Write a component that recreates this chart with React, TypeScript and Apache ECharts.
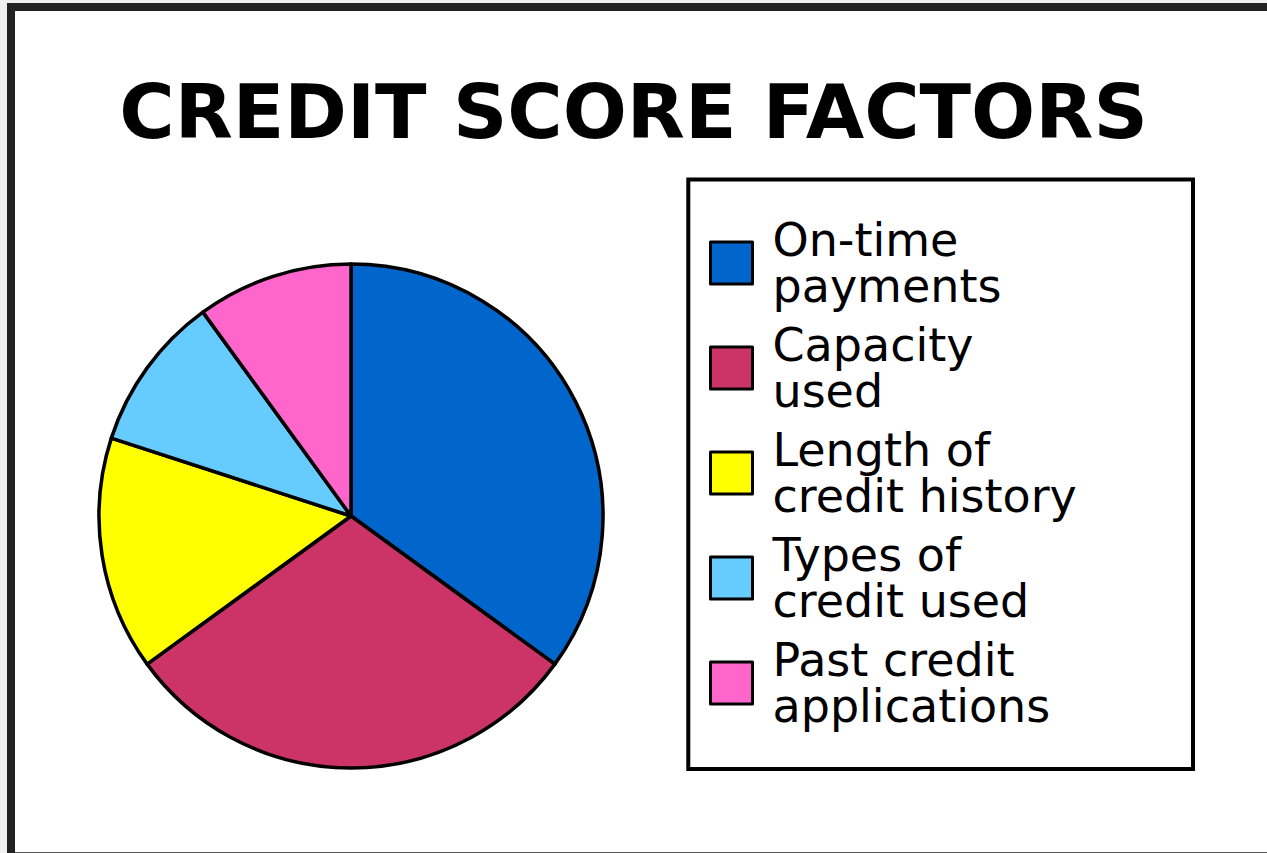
import React, { useEffect, useRef } from "react";
import * as echarts from "echarts";

const categories = [
  "On-time\npayments",
  "Capacity\nused",
  "Length of\ncredit history",
  "Types of\ncredit used",
  "Past credit\napplications",
];
const values = [35, 30, 15, 10, 10];
const colors = ["#0066cc", "#cc3366", "#ffff00", "#66ccff", "#ff66cc"];
const titleText = "CREDIT SCORE FACTORS";

export default function App() {
  const ref = useRef<HTMLDivElement>(null);
  useEffect(() => {
    if (!ref.current) return;
    const chart = echarts.init(ref.current, null, { renderer: "svg" });
    chart.setOption({
      animation: false,
      backgroundColor: "#ffffff",
      title: {
        text: titleText,
        left: "center",
        top: 69,
        textStyle: {
          fontFamily: "DejaVu Sans",
          fontWeight: "bold",
          fontSize: 75.5,
          lineHeight: 76,
          color: "#000",
        },
      },
      graphic: [
        { type: "rect", z: -10, shape: { x: 0, y: 0, width: 1267, height: 853 }, style: { fill: "#f0f0f0" } },
        { type: "rect", z: -9, shape: { x: 7, y: 3, width: 1300, height: 860 }, style: { fill: "#222222" } },
        { type: "rect", z: -8, shape: { x: 15, y: 11, width: 1300, height: 841 }, style: { fill: "#ffffff" } },
        { type: "rect", z: -8, shape: { x: 15, y: 852, width: 1300, height: 1 }, style: { fill: "#555555" } },
        {
          type: "rect",
          z: -7,
          shape: { x: 688.3, y: 179.5, width: 504.7, height: 589.5 },
          style: { fill: "#ffffff", stroke: "#000000", lineWidth: 4 },
        },
      ],
      legend: {
        orient: "vertical",
        left: 709,
        top: 217,
        padding: 0,
        itemWidth: 42,
        itemHeight: 42,
        itemGap: 13,
        icon: "rect",
        itemStyle: { borderColor: "#000", borderWidth: 3 },
        textStyle: {
          fontFamily: "DejaVu Sans",
          fontSize: 46,
          lineHeight: 46,
          color: "#000",
          padding: [0, 0, 0, 15],
        },
        data: categories,
      },
      series: [
        {
          type: "pie",
          center: [351, 516],
          radius: 252,
          startAngle: 90,
          clockwise: true,
          label: { show: false },
          labelLine: { show: false },
          emphasis: { disabled: true },
          itemStyle: { borderColor: "#000", borderWidth: 3.5 },
          data: categories.map((name, i) => ({
            name,
            value: values[i],
            itemStyle: { color: colors[i] },
          })),
        },
      ],
    });
    return () => chart.dispose();
  }, []);
  return (
    <div
      ref={ref}
      style={{ position: "fixed", left: 0, top: 0, width: 1267, height: 853 }}
    />
  );
}
